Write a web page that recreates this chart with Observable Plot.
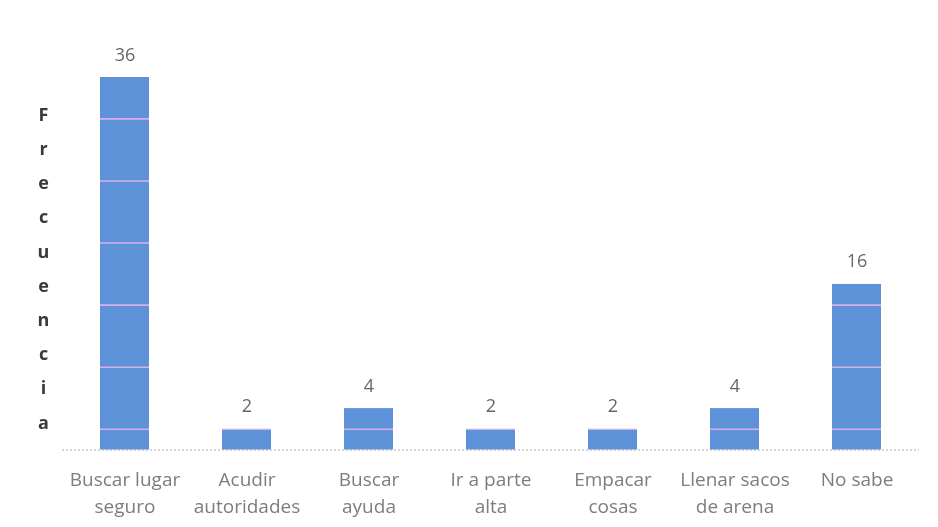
<!DOCTYPE html>
<html>
<head>
<meta charset="utf-8">
<script src="https://cdn.jsdelivr.net/npm/d3@7"></script>
<script src="https://cdn.jsdelivr.net/npm/@observablehq/plot@0.6"></script>
<style>
  html, body { margin: 0; padding: 0; background: #fff; }
  #chart { width: 938px; height: 527px; }
</style>
</head>
<body>
<div id="chart"></div>
<script>
const categories = ["Buscar lugar\nseguro", "Acudir\nautoridades", "Buscar\nayuda", "Ir a parte\nalta", "Empacar\ncosas", "Llenar sacos\nde arena", "No sabe"];
const values = [36, 2, 4, 2, 2, 4, 16];
const gridTicks = [2, 8, 14, 20, 26, 32];
const yTitle = "Frecuencia";

const data = categories.map((c, i) => ({category: c, value: values[i]}));

const chart = Plot.plot({
  width: 938,
  height: 527,
  marginLeft: 62,
  marginRight: 19,
  marginTop: 77,
  marginBottom: 77.5,
  style: {fontFamily: "'Open Sans', sans-serif", background: "#fff"},
  x: {domain: categories, paddingInner: 0.6, paddingOuter: 0.3, label: null},
  y: {domain: [0, 36], axis: null},
  marks: [
    Plot.barY(data, {x: "category", y: "value", fill: "#5d91d8"}),
    Plot.ruleY(gridTicks, {stroke: "#d8b0e6", strokeWidth: 1.6, mixBlendMode: "lighten"}),
    Plot.ruleY([0], {stroke: "#aaaaaa", strokeDasharray: "2,2", strokeWidth: 1}),
    Plot.text(data, {x: "category", y: "value", text: d => String(d.value), dy: -17, lineAnchor: "bottom", fontSize: 18, fill: "#666"}),
    Plot.axisX({tickSize: 0, tickPadding: 17, fontSize: 19, lineHeight: 1.42, color: "#7d7d7d", label: null}),
    Plot.text([yTitle.split("").join("\n")], {frameAnchor: "left", dx: -19, textAnchor: "middle", lineHeight: 1.9, fontSize: 18, fontWeight: "bold", fill: "#3a3a3a"})
  ]
});
document.getElementById("chart").appendChild(chart);
</script>
</body>
</html>
